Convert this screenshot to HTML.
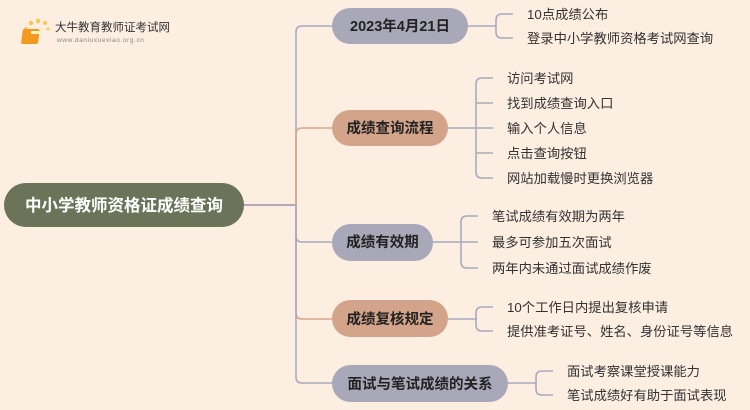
<!DOCTYPE html>
<html><head><meta charset="utf-8"><style>
html,body{margin:0;padding:0;background:#fdeee2;}
svg{display:block}
text{font-family:"Liberation Sans","Noto Sans CJK SC",sans-serif;}
.b{font-size:14.5px;font-weight:bold;fill:#222;}
.l{font-size:13.3px;fill:#333;}
</style></head><body>
<svg width="750" height="410" viewBox="0 0 750 410" xmlns="http://www.w3.org/2000/svg">
<rect width="750" height="410" fill="#fdeee2"/>
<g>
<circle cx="26" cy="29" r="2" fill="#f7c84a"/><circle cx="31" cy="23" r="2.2" fill="#f7c84a"/><circle cx="38" cy="21" r="2.2" fill="#f7c84a"/><circle cx="45" cy="23" r="2" fill="#f7c84a"/><circle cx="48" cy="29" r="1.8" fill="#f7d46a"/>
<rect x="27" y="29" width="17" height="15" rx="2" fill="#f39a1e" transform="skewX(-8)"/>
<rect x="31" y="31" width="11" height="3" fill="#fff3c0"/>
<text x="55" y="31" style="font-size:11.5px;fill:#333">大牛教育教师证考试网</text>
<text x="57" y="42" style="font-size:6.5px;fill:#888;letter-spacing:0.6px">www.daniuxuexiao.org.cn</text>
</g>
<g fill="none" stroke-width="1.6">
<path d="M244 205 H296 V32 Q296 26 302 26 H332" stroke="#a9aac0"/>
<path d="M244 205 H296 V134 Q296 128 302 128 H332" stroke="#d9a58a"/>
<path d="M244 205 H296 V236 Q296 242 302 242 H332" stroke="#a9aac0"/>
<path d="M244 205 H296 V313 Q296 319 302 319 H332" stroke="#d9a58a"/>
<path d="M244 205 H296 V377 Q296 383 302 383 H332" stroke="#a9aac0"/>
<g stroke="#a9aac0">
<path d="M468 26 H496 M513 14 H502 Q496 14 496 20 V32 Q496 38 502 38 H513"/>
<path d="M448 128 H493 M493 78 H482 Q476 78 476 84 V172 Q476 178 482 178 H493 M476 103 H493 M476 153 H493"/>
<path d="M433 242 H478 M478 216 H467 Q461 216 461 222 V262 Q461 268 467 268 H478"/>
<path d="M448 319 H477 M493 307 H482 Q476 307 476 313 V325 Q476 331 482 331 H493"/>
<path d="M508 383 H537 M553 371 H542 Q536 371 536 377 V389 Q536 395 542 395 H553"/>
</g>
</g>
<rect x="4" y="183" width="240" height="44" rx="22" fill="#6b7358"/>
<text x="124" y="211" text-anchor="middle" style="font-size:16.5px;font-weight:bold;fill:#fff">中小学教师资格证成绩查询</text>
<rect x="332" y="8" width="136" height="36" rx="18" fill="#a9a8b8"/>
<text x="400" y="31" text-anchor="middle" class="b">2023年4月21日</text>
<rect x="332" y="110" width="116" height="36" rx="18" fill="#d4a48a"/>
<text x="390" y="133" text-anchor="middle" class="b">成绩查询流程</text>
<rect x="332" y="224" width="101" height="37" rx="18.5" fill="#a9a8b8"/>
<text x="382.5" y="247" text-anchor="middle" class="b">成绩有效期</text>
<rect x="332" y="300" width="116" height="37" rx="18.5" fill="#d4a48a"/>
<text x="390" y="324" text-anchor="middle" class="b">成绩复核规定</text>
<rect x="332" y="365" width="176" height="37" rx="18.5" fill="#a9a8b8"/>
<text x="420" y="389" text-anchor="middle" class="b">面试与笔试成绩的关系</text>
<g class="l">
<text x="527" y="19">10点成绩公布</text>
<text x="527" y="43">登录中小学教师资格考试网查询</text>
<text x="507" y="83">访问考试网</text>
<text x="507" y="108">找到成绩查询入口</text>
<text x="507" y="133">输入个人信息</text>
<text x="507" y="158">点击查询按钮</text>
<text x="507" y="183">网站加载慢时更换浏览器</text>
<text x="492" y="221">笔试成绩有效期为两年</text>
<text x="492" y="247">最多可参加五次面试</text>
<text x="492" y="273">两年内未通过面试成绩作废</text>
<text x="507" y="312">10个工作日内提出复核申请</text>
<text x="507" y="336">提供准考证号、姓名、身份证号等信息</text>
<text x="567" y="376">面试考察课堂授课能力</text>
<text x="567" y="400">笔试成绩好有助于面试表现</text>
</g>
</svg>
</body></html>
